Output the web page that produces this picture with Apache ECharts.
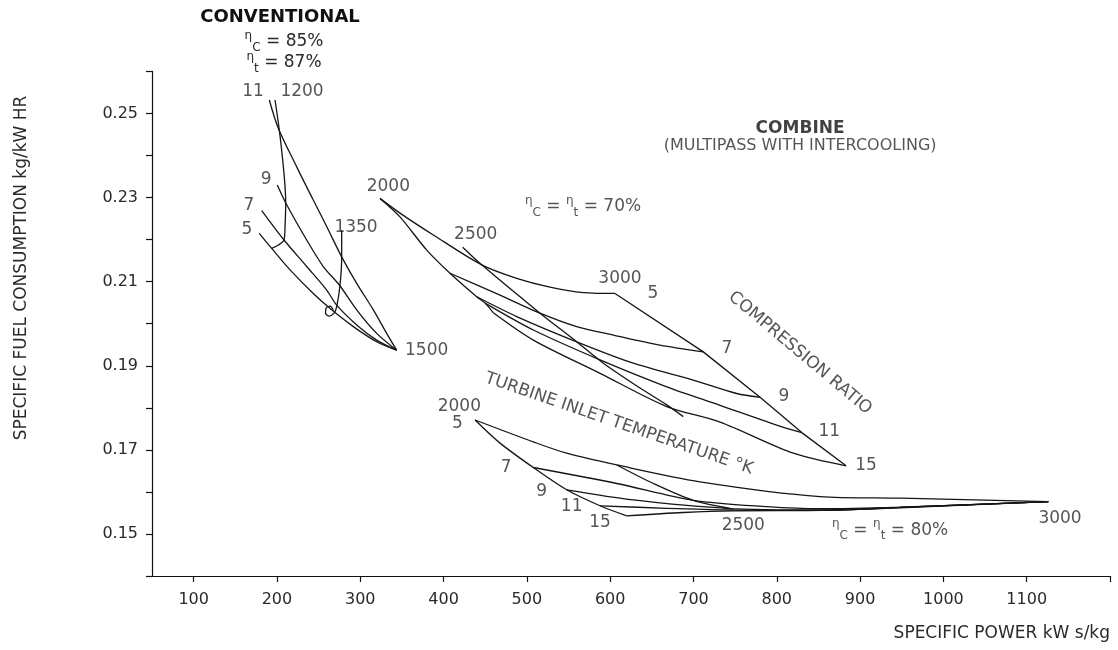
<!DOCTYPE html>
<html><head><meta charset="utf-8">
<script src="https://cdn.jsdelivr.net/npm/echarts@6/dist/echarts.min.js"></script>
<style>html,body{margin:0;padding:0;background:#fff}#c{width:1118px;height:650px}</style>
</head><body><div id="c"></div>
<script>
// ---- axis ticks ----
const xTicks = [100,200,300,400,500,600,700,800,900,1000,1100,1200];
const xTickLabels = [100,200,300,400,500,600,700,800,900,1000,1100];
const yTicks = [0.14,0.15,0.16,0.17,0.18,0.19,0.20,0.21,0.22,0.23,0.24,0.25,0.26];
const yTickLabels = [0.15,0.17,0.19,0.21,0.23,0.25];

// ---- CONVENTIONAL (eta_c 85%, eta_t 87%) ----
const convCR11 = [[190.8,0.2532],[201.6,0.2465],[223.7,0.2373],[243.6,0.2294],[259.7,0.2231],[277.7,0.2159],[295.7,0.2096],[315.7,0.2033],[331.7,0.1977],[343.7,0.1937]];
const convCR9  = [[200.4,0.2330],[210.9,0.2286],[235.7,0.2199],[255.6,0.2136],[274.9,0.2092],[295.7,0.2033],[319.7,0.1977],[343.7,0.1937]];
const convCR7  = [[181.7,0.2269],[208.5,0.2199],[235.7,0.2136],[259.7,0.2080],[271.7,0.2044],[295.7,0.1997],[319.7,0.1961],[343.7,0.1937]];
const convCR5  = [[178.8,0.2215],[193.7,0.2179],[215.7,0.2128],[243.6,0.2072],[265.7,0.2033],[291.7,0.1993],[319.7,0.1957],[343.7,0.1937]];
const convT1200 = [[197.7,0.2532],[202.8,0.2461],[206.9,0.2389],[209.7,0.2326],[210.5,0.2286],[209.7,0.2231],[208.5,0.2199],[201.6,0.2187],[193.7,0.2179]];
const convT1350 = [[277.7,0.2223],[277.7,0.2159],[275.7,0.2092],[271.7,0.2040],[268.5,0.2025],[262.5,0.2018],[258.3,0.2025],[258.9,0.2037],[263.7,0.2042],[267.6,0.2033]];

// ---- COMBINE eta 70% ----
const c70CR5  = [[323.7,0.2298],[347.7,0.2263],[387.7,0.2211],[445.8,0.2140],[487.8,0.2108],[527.8,0.2087],[567.8,0.2074],[605.8,0.2072]];
const c70CR7  = [[407.7,0.2120],[467.8,0.2068],[515.8,0.2025],[559.8,0.1993],[603.8,0.1973],[659.8,0.1949],[711.8,0.1933]];
const c70CR9  = [[439.8,0.2064],[487.8,0.2017],[559.8,0.1957],[627.8,0.1906],[699.8,0.1866],[751.9,0.1834],[779.9,0.1825]];
const c70CR11 = [[449.8,0.2049],[507.8,0.1985],[587.8,0.1914],[667.9,0.1850],[731.9,0.1806],[800.0,0.1759],[830.0,0.1741]];
const c70CR15 = [[459.7,0.2026],[507.8,0.1961],[587.8,0.1882],[667.9,0.1803],[731.9,0.1766],[819.9,0.1692],[883.2,0.1662]];
const c70T2000 = [[323.7,0.2298],[347.7,0.2254],[379.8,0.2175],[407.7,0.2120],[439.8,0.2064],[449.8,0.2049],[459.7,0.2026]];
const c70T2500 = [[423.0,0.2182],[445.8,0.2140],[515.8,0.2025],[559.8,0.1957],[591.8,0.1906],[635.8,0.1847],[667.9,0.1807],[687.8,0.1779]];
const c70T3000 = [[605.8,0.2072],[711.8,0.1933],[779.9,0.1825],[830.0,0.1741],[883.2,0.1662]];

// ---- COMBINE eta 80% ----
const c80CR5  = [[437.8,0.1771],[507.7,0.1719],[547.8,0.1692],[607.9,0.1664],[707.9,0.1624],[851.9,0.1589],[947.9,0.1585],[1126,0.1577]];
const c80CR7  = [[507.7,0.1658],[607.9,0.1620],[699.8,0.1580],[787.9,0.1565],[851.9,0.1560],[947.9,0.1564],[1126,0.1577]];
const c80CR9  = [[547.8,0.1605],[627.8,0.1581],[739.9,0.1561],[851.9,0.1557],[947.9,0.1563],[1126,0.1577]];
const c80CR11 = [[587.8,0.1567],[667.9,0.1561],[747.9,0.1557],[851.9,0.1556],[947.9,0.1563],[1126,0.1577]];
const c80CR15 = [[619.9,0.1543],[687.8,0.1551],[747.9,0.1555],[851.9,0.1556],[947.9,0.1562],[1126,0.1577]];
const c80T2000 = [[437.8,0.1771],[467.8,0.1716],[507.7,0.1658],[547.8,0.1605],[587.8,0.1567],[619.9,0.1543]];
const c80T2500 = [[607.9,0.1664],[651.9,0.1620],[699.8,0.1580],[743.9,0.1561]];

// ---- annotations (data coordinates) ----
const convLabels = [[171.2,0.2551,'11'],[230.1,0.2551,'1200'],[186.9,0.2342,'9'],[166.4,0.2282,'7'],[164.0,0.2225,'5'],[294.9,0.2228,'1350'],[379.7,0.1937,'1500']];
const c70Labels = [[333.7,0.2326,'2000'],[438.6,0.2213,'2500'],[611.8,0.2108,'3000'],[651.4,0.2072,'5'],[740,0.1941,'7'],[808.7,0.1826,'9'],[863.1,0.1743,'11'],[907.1,0.1662,'15']];
const c80Labels = [[418.9,0.1804,'2000'],[416.5,0.1763,'5'],[475,0.1659,'7'],[517.8,0.1600,'9'],[553.8,0.1565,'11'],[587.8,0.1527,'15'],[759.8,0.1520,'2500'],[1140,0.1537,'3000']];
const etaLabels = [[567.4,0.2278,'C','t','70%'],[936,0.1509,'C','t','80%']];
const combineTitle = [828,0.2465,'COMBINE'];
const combineSub = [828,0.2423,'(MULTIPASS WITH INTERCOOLING)'];
const tempTitle = [610.6,0.1762,'TURBINE INLET TEMPERATURE °K'];
const ratioTitle = [827.9,0.1930,'COMPRESSION RATIO'];

const FONT = 'DejaVu Sans';
const TXT = '#2a2a2a';
const LINE = '#151515';

const rich = {
  e: {fontSize: 12, lineHeight: 13, verticalAlign: 'top', fontFamily: FONT, color: TXT, fill: TXT},
  s: {fontSize: 12, lineHeight: 13, verticalAlign: 'bottom', fontFamily: FONT, color: TXT, fill: TXT},
  n: {fontSize: 17, lineHeight: 24, verticalAlign: 'middle', fontFamily: FONT, color: TXT, fill: TXT}
};

const chart = echarts.init(document.getElementById('c'));

function lineSeries(data, smooth) {
  return {type: 'line', data: data, showSymbol: false, symbol: 'none', smooth: smooth === undefined ? 0.3 : smooth,
    lineStyle: {color: LINE, width: 1.3}, silent: true, z: 2, clip: false};
}
function labelSeries(items, fontSize, extra) {
  return {type: 'scatter', symbolSize: 1, itemStyle: {color: 'rgba(0,0,0,0)'}, silent: true, clip: false, z: 3,
    data: items.map(d => ({value: [d[0], d[1]], name: d[2]})),
    label: Object.assign({show: true, position: 'inside', align: 'center', verticalAlign: 'middle',
      formatter: p => p.name, fontFamily: FONT, fontSize: fontSize, color: TXT}, extra || {})};
}

const series = [
  convCR11, convCR9, convCR7, convCR5, convT1200, convT1350,
  c70CR5, c70CR7, c70CR9, c70CR11, c70CR15, c70T2000, c70T2500,
  c80CR5, c80CR7, c80CR9, c80CR11, c80CR15, c80T2000, c80T2500
].map(d => lineSeries(d));
series.push(lineSeries(c70T3000, false));
series.push(labelSeries(convLabels, 17));
series.push(labelSeries(c70Labels, 17));
series.push(labelSeries(c80Labels, 17));
series.push(labelSeries([combineTitle], 17, {fontWeight: 'bold', color: '#111'}));
series.push(labelSeries([combineSub], 16));
series.push(labelSeries([tempTitle], 17, {rotate: -19}));
series.push(labelSeries([ratioTitle], 17, {rotate: -40}));
series.push({type: 'scatter', symbolSize: 1, itemStyle: {color: 'rgba(0,0,0,0)'}, silent: true, clip: false, z: 3,
  data: etaLabels.map(d => ({value: [d[0], d[1]], name: '{e|η}{s|' + d[2] + '}{n| = }{e|η}{s|' + d[3] + '}{n| = ' + d[4] + '}'})),
  label: {show: true, position: 'inside', align: 'center', verticalAlign: 'middle', formatter: p => p.name, rich: rich}});

chart.setOption({
  animation: false,
  backgroundColor: '#fff',
  grid: {left: 152, right: 8, top: 71.4, bottom: 74, containLabel: false},
  xAxis: {type: 'value', min: 50, max: 1200,
    axisLine: {show: true, lineStyle: {color: '#111', width: 1.2}},
    axisTick: {show: true, length: 6, customValues: xTicks, lineStyle: {color: '#111', width: 1.2}},
    axisLabel: {customValues: xTickLabels, margin: 16, fontFamily: FONT, fontSize: 16, color: TXT, formatter: v => String(v)},
    splitLine: {show: false}},
  yAxis: {type: 'value', min: 0.14, max: 0.26,
    axisLine: {show: true, lineStyle: {color: '#111', width: 1.2}},
    axisTick: {show: true, length: 6, customValues: yTicks, lineStyle: {color: '#111', width: 1.2}},
    axisLabel: {customValues: yTickLabels, margin: 14, fontFamily: FONT, fontSize: 16, color: TXT, formatter: v => v.toFixed(2)},
    splitLine: {show: false}},
  graphic: [
    {type: 'text', x: 280, y: 17, style: {text: 'CONVENTIONAL', fontFamily: FONT, fontSize: 18, fontWeight: 'bold', fill: '#111', align: 'center', verticalAlign: 'middle', textAlign: 'center', textVerticalAlign: 'middle'}},
    {type: 'text', x: 284, y: 42, style: {text: '{e|η}{s|C}{n| = 85%}', rich: rich, fill: TXT, align: 'center', verticalAlign: 'middle', textAlign: 'center', textVerticalAlign: 'middle'}},
    {type: 'text', x: 284, y: 63, style: {text: '{e|η}{s|t}{n| = 87%}', rich: rich, fill: TXT, align: 'center', verticalAlign: 'middle', textAlign: 'center', textVerticalAlign: 'middle'}},
    {type: 'text', x: 22, y: 268, rotation: Math.PI / 2, style: {text: 'SPECIFIC FUEL CONSUMPTION kg/kW HR', fontFamily: FONT, fontSize: 17, fill: TXT, align: 'center', verticalAlign: 'middle', textAlign: 'center', textVerticalAlign: 'middle'}},
    {type: 'text', x: 1110, y: 634, style: {text: 'SPECIFIC POWER kW s/kg', fontFamily: FONT, fontSize: 17, fill: TXT, align: 'right', verticalAlign: 'middle', textAlign: 'right', textVerticalAlign: 'middle'}}
  ],
  series: series
});
</script></body></html>
